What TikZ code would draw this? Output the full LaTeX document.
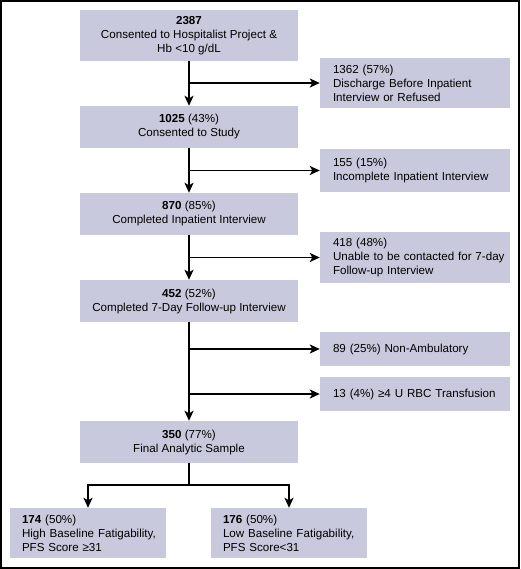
\documentclass[tikz,border=0pt]{standalone}
\usepackage{fontspec}
\setmainfont{Liberation Sans}
\usetikzlibrary{arrows.meta,calc}
\definecolor{boxfill}{HTML}{C8C9DC}
\newcommand{\fsz}{\fontsize{11.6}{14}\selectfont}
\tikzset{
  box/.style={fill=boxfill, inner sep=0pt, align=center, font=\fsz, minimum width=218pt},
  side/.style={fill=boxfill, inner ysep=0pt, inner xsep=13pt, text width=164pt, align=left, font=\fsz},
  low/.style={fill=boxfill, inner ysep=0pt, inner xsep=12pt, text width=132pt, align=left, font=\fsz},
  conn/.style={line width=1.8pt},
  arr/.style={conn, -{Stealth[length=10pt,width=9pt,inset=2.5pt]}},
}
\begin{document}
\begin{tikzpicture}[x=1pt,y=-1pt]
\useasboundingbox (0,0) rectangle (520,569);
\draw[line width=2pt] (1,1) rectangle (519,568);
% main column
\node[box, minimum height=51pt] (b1) at (189,35.5) {\textbf{2387}\\Consented to Hospitalist Project \&\\Hb <10 g/dL};
\node[box, minimum height=42pt] (b2) at (189,127) {\textbf{1025} (43\%)\\Consented to Study};
\node[box, minimum height=42pt] (b3) at (189,214) {\textbf{870} (85\%)\\Completed Inpatient Interview};
\node[box, minimum height=42pt] (b4) at (189,301) {\textbf{452} (52\%)\\Completed 7-Day Follow-up Interview};
\node[box, minimum height=42pt] (b5) at (189,442) {\textbf{350} (77\%)\\Final Analytic Sample};
% side boxes
\node[side, minimum height=50pt] (r1) at (415,83) {\mbox{1362 (57\%)}\\\mbox{Discharge Before Inpatient}\\\mbox{Interview or Refused}};
\node[side, minimum height=43pt] (r2) at (415,170.5) {\mbox{155 (15\%)}\\\mbox{Incomplete Inpatient Interview}};
\node[side, minimum height=51pt] (r3) at (415,257.5) {\mbox{418 (48\%)}\\\mbox{Unable to be contacted for 7-day}\\\mbox{Follow-up Interview}};
\node[side, minimum height=34pt] (r4) at (415,349) {\mbox{89 (25\%) Non-Ambulatory}};
\node[side, minimum height=34pt] (r5) at (415,394) {\mbox{13 (4\%) ≥4 U RBC Transfusion}};
% bottom boxes
\node[low, minimum height=50pt] (l6) at (88,533) {\mbox{\textbf{174} (50\%)}\\\mbox{High Baseline Fatigability,}\\\mbox{PFS Score ≥31}};
\node[low, minimum height=50pt] (r6) at (289,533) {\mbox{\textbf{176} (50\%)}\\\mbox{Low Baseline Fatigability,}\\\mbox{PFS Score<31}};
% connectors
\draw[arr] (b1.south) -- (b2.north);
\draw[arr] (b1.south |- r1.west) -- (r1.west);
\draw[arr] (b2.south) -- (b3.north);
\draw[arr] (b2.south |- r2.west) -- (r2.west);
\draw[arr] (b3.south) -- (b4.north);
\draw[arr] (b3.south |- r3.west) -- (r3.west);
\draw[arr] (b4.south) -- (b5.north);
\draw[arr] (b4.south |- r4.west) -- (r4.west);
\draw[arr] (b4.south |- r5.west) -- (r5.west);
\coordinate (split) at ($(b5.south)+(0,22)$);
\draw[conn] (b5.south) -- (split);
\draw[arr] (split) -| (l6.north);
\draw[arr] (split) -| (r6.north);
\end{tikzpicture}
\end{document}
